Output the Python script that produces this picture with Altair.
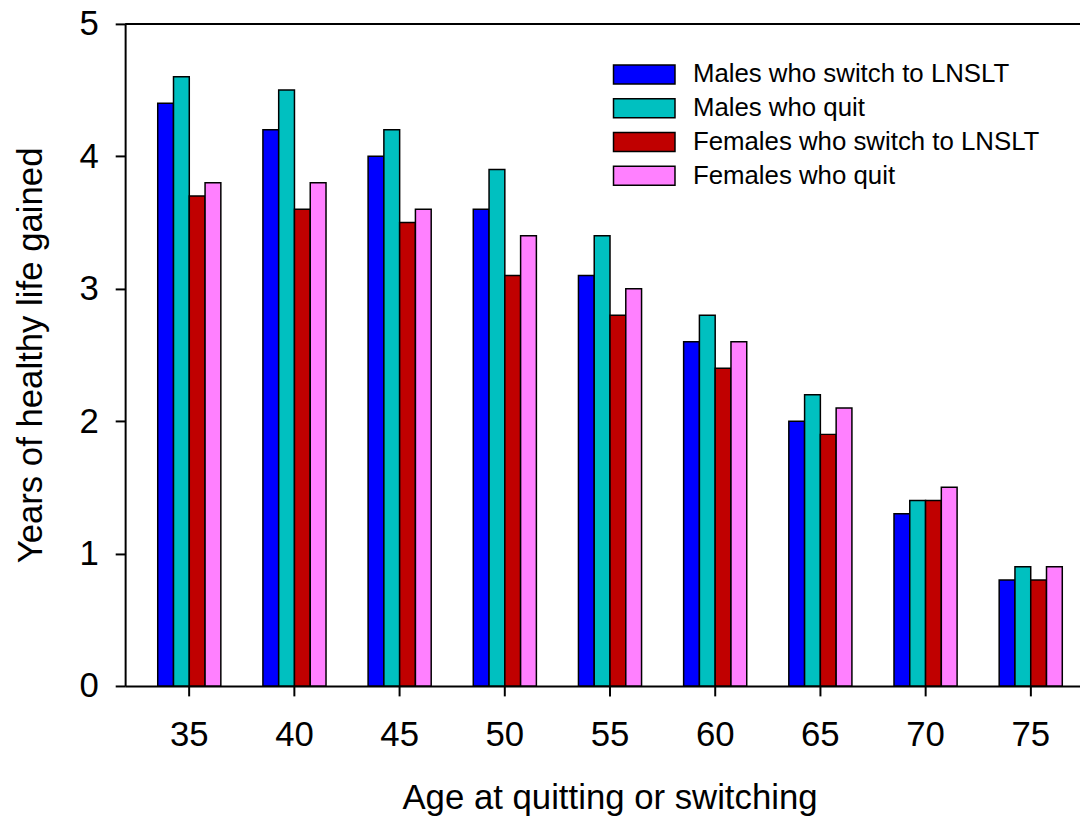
import altair as alt
import pandas as pd

ages = ["35", "40", "45", "50", "55", "60", "65", "70", "75"]
series = [
    "Males who switch to LNSLT",
    "Males who quit",
    "Females who switch to LNSLT",
    "Females who quit",
]
males_switch = [4.4, 4.2, 4.0, 3.6, 3.1, 2.6, 2.0, 1.3, 0.8]
males_quit = [4.6, 4.5, 4.2, 3.9, 3.4, 2.8, 2.2, 1.4, 0.9]
females_switch = [3.7, 3.6, 3.5, 3.1, 2.8, 2.4, 1.9, 1.4, 0.8]
females_quit = [3.8, 3.8, 3.6, 3.4, 3.0, 2.6, 2.1, 1.5, 0.9]
colors = ["#0000FF", "#00C0C0", "#C00000", "#FF80FF"]
y_ticks = [0, 1, 2, 3, 4, 5]

rows = []
for s, vals in zip(series, [males_switch, males_quit, females_switch, females_quit]):
    for a, v in zip(ages, vals):
        rows.append({"Age": a, "Series": s, "Value": v})
df = pd.DataFrame(rows)

FONT = "Liberation Sans"
W, H = 962, 667

bars = alt.Chart(df).mark_bar(stroke="black", strokeWidth=1.5, opacity=1).encode(
    x=alt.X(
        "Age:N",
        sort=ages,
        title="Age at quitting or switching",
        scale=alt.Scale(range=[0, 977], paddingInner=0.4, paddingOuter=0.31),
        axis=alt.Axis(
            labelAngle=0,
            labelFontSize=35,
            labelPadding=22,
            tickSize=10,
            tickWidth=2,
            tickColor="black",
            domainColor="black",
            domainWidth=2,
            titleFontSize=35,
            titlePadding=28,
            titleX=488,
        ),
    ),
    xOffset=alt.XOffset("Series:N", sort=series),
    y=alt.Y(
        "Value:Q",
        title="Years of healthy life gained",
        scale=alt.Scale(domain=[0, 5], nice=False),
        axis=alt.Axis(
            values=y_ticks,
            format="d",
            labelFontSize=35,
            labelPadding=17,
            tickSize=10,
            tickWidth=2,
            tickColor="black",
            domainColor="black",
            domainWidth=2,
            grid=False,
            titleFontSize=35,
            titlePadding=31,
        ),
    ),
    color=alt.Color(
        "Series:N",
        sort=series,
        scale=alt.Scale(domain=series, range=colors),
        legend=alt.Legend(
            orient="none",
            legendX=510,
            legendY=38,
            title=None,
            symbolType="M-3.26,-1L3.26,-1L3.26,1L-3.26,1Z",
            symbolSize=361,
            symbolStrokeColor="black",
            symbolStrokeWidth=1.5,
            symbolOpacity=1,
            labelFontSize=26,
            labelOffset=36,
            rowPadding=8,
            padding=0,
            labelLimit=600,
        ),
    ),
)

top_line = alt.Chart(pd.DataFrame({"y": [5]})).mark_rule(color="black", strokeWidth=2).encode(
    y=alt.Y("y:Q")
)

chart = (
    alt.layer(bars, top_line)
    .properties(
        width=W,
        height=H,
        autosize=alt.AutoSizeParams(type="none"),
        padding={"left": 118, "top": 13, "right": 0, "bottom": 130},
    )
    .configure_view(stroke=None)
    .configure_axis(labelFont=FONT, titleFont=FONT, labelColor="black", titleColor="black", titleFontWeight="normal")
    .configure_legend(labelFont=FONT, labelColor="black")
)

chart.save("out.html", embed_options={"renderer": "svg", "actions": False})
